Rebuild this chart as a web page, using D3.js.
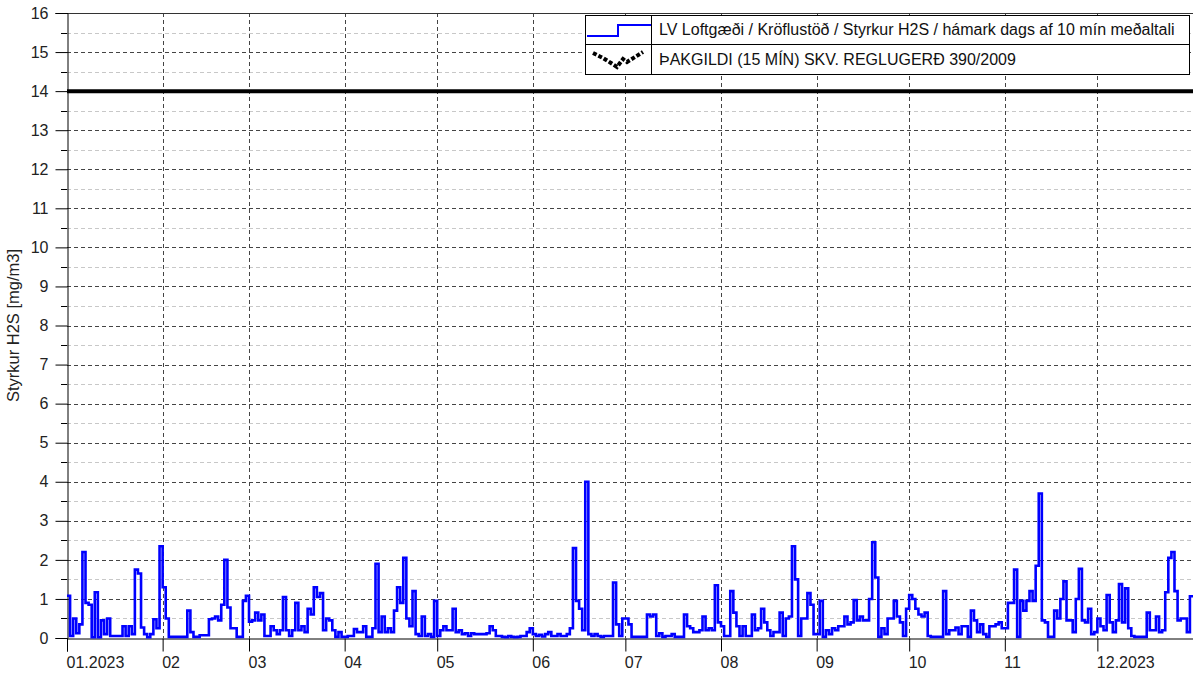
<!DOCTYPE html>
<html>
<head>
<meta charset="utf-8">
<script src="https://cdn.jsdelivr.net/npm/d3@7"></script>
<style>
  body { margin: 0; background: #fff; }
  text { font-family: "Liberation Sans", Arial, sans-serif; }
</style>
</head>
<body>
<div id="chart"></div>
<script>
// daily max of 10 min averages, H2S mg/m3, one array per month of 2023
var jan = [1.08, 0.05, 0.5, 0.12, 0.35, 2.2, 0.9, 0.85, 0.02, 1.17, 0.02, 0.45, 0.1, 0.5, 0.05, 0.05,
           0.05, 0.05, 0.3, 0.05, 0.3, 0.1, 1.75, 1.65, 0.27, 0.1, 0.02, 0.1, 0.48, 0.25, 2.35];
var feb = [1.3, 0.5, 0.03, 0.03, 0.03, 0.03, 0.03, 0.03, 0.7, 0.15, 0.03, 0.03, 0.07, 0.07,
           0.07, 0.48, 0.5, 0.55, 0.45, 0.85, 2.0, 0.78, 0.25, 0.25, 0.03, 0.03, 0.95, 1.08];
var mar = [0.42, 0.45, 0.65, 0.45, 0.6, 0.05, 0.05, 0.3, 0.2, 0.1, 0.2, 1.05, 0.2, 0.05, 0.2, 0.9,
           0.2, 0.3, 0.15, 0.75, 0.6, 1.3, 1.05, 1.15, 0.2, 0.5, 0.45, 0.2, 0.03, 0.15, 0.03];
var apr = [0.03, 0.05, 0.05, 0.23, 0.15, 0.15, 0.3, 0.03, 0.03, 0.25, 1.9, 0.15, 0.55, 0.15, 0.25,
           0.15, 0.7, 1.3, 0.9, 2.05, 0.5, 0.3, 1.2, 0.1, 0.05, 0.55, 0.05, 0.1, 0.03, 0.95];
var may = [0.05, 0.2, 0.3, 0.2, 0.2, 0.75, 0.15, 0.2, 0.1, 0.12, 0.05, 0.12, 0.1, 0.1, 0.1, 0.1,
           0.12, 0.3, 0.2, 0.05, 0.05, 0.03, 0.02, 0.05, 0.03, 0.02, 0.03, 0.05, 0.05, 0.15, 0.25];
var jun = [0.1, 0.05, 0.08, 0.04, 0.1, 0.15, 0.05, 0.05, 0.1, 0.05, 0.05, 0.1, 0.25, 2.3, 0.95,
           0.75, 0.2, 4.0, 0.1, 0.05, 0.1, 0.05, 0.03, 0.05, 0.05, 0.05, 1.42, 0.35, 0.05, 0.5];
var jul = [0.5, 0.35, 0.03, 0.03, 0.03, 0.03, 0.03, 0.6, 0.55, 0.6, 0.05, 0.12, 0.03, 0.05, 0.05,
           0.1, 0.03, 0.03, 0.03, 0.6, 0.3, 0.25, 0.15, 0.15, 0.2, 0.55, 0.2, 0.25, 0.2, 1.35, 0.4];
var aug = [0.3, 0.05, 0.05, 1.2, 0.65, 0.3, 0.05, 0.3, 0.05, 0.05, 0.6, 0.2, 0.25, 0.75, 0.4, 0.2,
           0.05, 0.15, 0.15, 0.65, 0.05, 0.5, 0.55, 2.35, 1.5, 0.05, 0.5, 0.5, 1.15, 0.85, 0.1];
var sep = [0.1, 0.95, 0.03, 0.2, 0.1, 0.25, 0.2, 0.3, 0.3, 0.55, 0.35, 0.4, 0.97, 0.45, 0.55,
           0.45, 0.45, 1.0, 2.45, 1.55, 0.03, 0.25, 0.1, 0.5, 0.5, 0.95, 0.55, 0.4, 0.05, 0.75];
var oct = [1.1, 1.0, 0.75, 0.6, 0.55, 0.65, 0.05, 0.03, 0.03, 0.03, 0.03, 1.2, 0.1, 0.2, 0.2, 0.27,
           0.1, 0.3, 0.3, 0.03, 0.7, 0.45, 0.15, 0.35, 0.1, 0.03, 0.3, 0.3, 0.35, 0.4, 0.25];
var nov = [0.25, 0.9, 0.9, 1.75, 0.03, 0.95, 0.7, 0.95, 1.2, 0.95, 1.85, 3.7, 0.45, 0.4, 0.03,
           0.03, 0.7, 0.5, 1.0, 1.45, 0.45, 0.45, 0.15, 1.0, 1.77, 0.45, 0.4, 0.75, 0.1, 0.15];
var dec = [0.5, 0.3, 0.2, 1.1, 0.4, 0.15, 0.45, 1.38, 0.4, 1.27, 0.25, 0.05, 0.03, 0.03, 0.03, 0.03,
           0.65, 0.2, 0.2, 0.55, 0.15, 0.2, 1.17, 2.05, 2.2, 1.2, 0.45, 0.5, 0.5, 0.15, 1.07];

var limitValue = 14;
var yTicks = [0, 1, 2, 3, 4, 5, 6, 7, 8, 9, 10, 11, 12, 13, 14, 15, 16];
var monthLabels = ["01.2023", "02", "03", "04", "05", "06", "07", "08", "09", "10", "11", "12.2023"];
var seriesName = "LV Loftgæði / Kröflustöð / Styrkur H2S / hámark dags af 10 mín meðaltali";
var limitName = "ÞAKGILDI (15 MÍN) SKV. REGLUGERÐ 390/2009";

var width = 1193, height = 677;
var mLeft = 67, mRight = 1193, mTop = 13, mBottom = 638;

var svg = d3.select("#chart").append("svg")
    .attr("width", width)
    .attr("height", height);

var start = new Date(Date.UTC(2023, 0, 1));
var end = new Date(Date.UTC(2024, 0, 1));

var values = [].concat(jan, feb, mar, apr, may, jun, jul, aug, sep, oct, nov, dec);
var data = values.map(function (v, i) {
    return { date: d3.utcDay.offset(start, i), value: v };
});
// carry last value to the end of the year for the step line
data.push({ date: end, value: values[values.length - 1] });

var x = d3.scaleUtc().domain([start, end]).range([mLeft, mRight]);
var y = d3.scaleLinear().domain([0, 16]).range([mBottom, mTop]);

var months = d3.utcMonth.range(start, end);

// minor grid (half units)
svg.append("g").selectAll("line")
    .data(d3.range(0.5, 16, 1))
    .enter().append("line")
    .attr("x1", mLeft).attr("x2", mRight)
    .attr("y1", function (d) { return Math.round(y(d)) + 0.5; })
    .attr("y2", function (d) { return Math.round(y(d)) + 0.5; })
    .attr("stroke", "#c8c8c8")
    .attr("stroke-dasharray", "4,3");

// major grid
svg.append("g").selectAll("line")
    .data(yTicks.slice(1, -1))
    .enter().append("line")
    .attr("x1", mLeft).attr("x2", mRight)
    .attr("y1", function (d) { return Math.round(y(d)) + 0.5; })
    .attr("y2", function (d) { return Math.round(y(d)) + 0.5; })
    .attr("stroke", "#444")
    .attr("stroke-dasharray", "4,3");

svg.append("g").selectAll("line")
    .data(months.slice(1))
    .enter().append("line")
    .attr("x1", function (d) { return Math.round(x(d)) + 0.5; })
    .attr("x2", function (d) { return Math.round(x(d)) + 0.5; })
    .attr("y1", mTop).attr("y2", mBottom)
    .attr("stroke", "#444")
    .attr("stroke-dasharray", "4,3");

// top border
svg.append("line")
    .attr("x1", mLeft).attr("x2", mRight)
    .attr("y1", mTop + 0.5).attr("y2", mTop + 0.5)
    .attr("stroke", "#333");

// y axis
var yAxis = d3.axisLeft(y).tickValues(yTicks).tickSize(12).tickPadding(7);
var gy = svg.append("g")
    .attr("transform", "translate(" + (mLeft + 0.5) + ",0)")
    .call(yAxis);
gy.select(".domain").attr("stroke", "#000");
gy.selectAll(".tick line").attr("stroke", "#000");
gy.selectAll("text").attr("font-size", 16).attr("fill", "#222")
    .attr("font-family", "Liberation Sans, Arial, sans-serif");

svg.append("g").selectAll("line")
    .data(d3.range(0.5, 16, 1))
    .enter().append("line")
    .attr("x1", mLeft - 6).attr("x2", mLeft)
    .attr("y1", function (d) { return Math.round(y(d)) + 0.5; })
    .attr("y2", function (d) { return Math.round(y(d)) + 0.5; })
    .attr("stroke", "#000");

// x axis
var xAxis = d3.axisBottom(x).tickValues(months).tickSize(13)
    .tickFormat(function (d, i) { return monthLabels[i]; });
var gx = svg.append("g")
    .attr("transform", "translate(0," + (mBottom + 0.5) + ")")
    .call(xAxis);
gx.select(".domain").attr("stroke", "#000");
gx.selectAll(".tick line").attr("stroke", "#000");
gx.selectAll("text")
    .attr("font-size", 16).attr("fill", "#222")
    .attr("font-family", "Liberation Sans, Arial, sans-serif")
    .attr("text-anchor", "start")
    .attr("dx", -1)
    .attr("y", 18);

svg.append("text")
    .attr("transform", "translate(19," + ((mTop + mBottom) / 2) + ") rotate(-90)")
    .attr("text-anchor", "middle")
    .attr("font-size", 16.5)
    .attr("fill", "#222")
    .text("Styrkur H2S [mg/m3]");

// limit line
svg.append("line")
    .attr("x1", mLeft).attr("x2", mRight)
    .attr("y1", y(limitValue)).attr("y2", y(limitValue))
    .attr("stroke", "#000")
    .attr("stroke-width", 4);

// the series
var line = d3.line()
    .curve(d3.curveStepAfter)
    .x(function (d) { return x(d.date); })
    .y(function (d) { return y(d.value); });

svg.append("path")
    .datum(data)
    .attr("fill", "none")
    .attr("stroke", "#0000ff")
    .attr("stroke-width", 2.6)
    .attr("stroke-linejoin", "miter")
    .attr("d", line);

// legend
var lg = svg.append("g").attr("transform", "translate(585,15)");
lg.append("rect")
    .attr("x", 0.5).attr("y", 0.5)
    .attr("width", 604).attr("height", 59)
    .attr("fill", "#fff").attr("stroke", "#000");
lg.append("line")
    .attr("x1", 0).attr("x2", 605).attr("y1", 29.5).attr("y2", 29.5)
    .attr("stroke", "#000");
lg.append("line")
    .attr("x1", 66.5).attr("x2", 66.5).attr("y1", 0).attr("y2", 60)
    .attr("stroke", "#000");
lg.append("path")
    .attr("d", "M2,21 H33 V10 H66")
    .attr("fill", "none").attr("stroke", "#0000ff").attr("stroke-width", 2);
lg.append("path")
    .attr("d", "M8,38 L18,43 L26,48 L32,52 L38,44 L42,47 L50,42 L58,37")
    .attr("fill", "none").attr("stroke", "#000").attr("stroke-width", 4)
    .attr("stroke-dasharray", "4,2");
lg.append("text")
    .attr("x", 74).attr("y", 20)
    .attr("font-size", 16).attr("fill", "#111")
    .text(seriesName);
lg.append("text")
    .attr("x", 74).attr("y", 50)
    .attr("font-size", 16).attr("fill", "#111")
    .text(limitName);
</script>
</body>
</html>
